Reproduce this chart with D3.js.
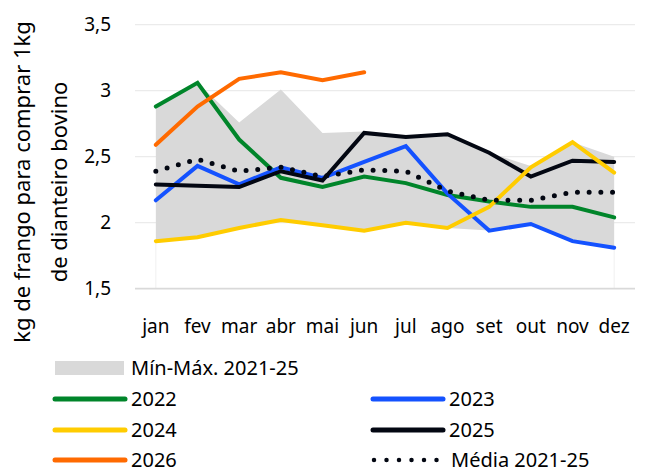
<!DOCTYPE html>
<html>
<head>
<meta charset="utf-8">
<script src="https://cdn.jsdelivr.net/npm/d3@7"></script>
<style>
  html, body { margin: 0; padding: 0; background: #ffffff; }
  svg { display: block; font-family: "Noto Sans", "Open Sans", sans-serif; }
</style>
</head>
<body>
<svg id="chart" width="649" height="473"></svg>
<script>
const months = ["jan","fev","mar","abr","mai","jun","jul","ago","set","out","nov","dez"];
const yTicks = [1.5, 2, 2.5, 3, 3.5];
const bandMin = [1.86, 1.89, 1.96, 2.02, 1.98, 1.94, 2.00, 1.96, 1.94, 1.99, 1.86, 1.81];
const bandMax = [2.88, 3.06, 2.76, 3.01, 2.68, 2.69, 2.65, 2.67, 2.53, 2.43, 2.61, 2.50];
const s2022 = [2.88, 3.06, 2.63, 2.34, 2.27, 2.35, 2.30, 2.21, 2.16, 2.12, 2.12, 2.04];
const s2023 = [2.17, 2.43, 2.29, 2.42, 2.34, 2.46, 2.58, 2.22, 1.94, 1.99, 1.86, 1.81];
const s2024 = [1.86, 1.89, 1.96, 2.02, 1.98, 1.94, 2.00, 1.96, 2.12, 2.42, 2.61, 2.38];
const s2025 = [2.29, 2.28, 2.27, 2.39, 2.32, 2.68, 2.65, 2.67, 2.53, 2.35, 2.47, 2.46];
const s2026 = [2.59, 2.88, 3.09, 3.14, 3.08, 3.14];
const media = [2.39, 2.48, 2.39, 2.42, 2.35, 2.40, 2.39, 2.24, 2.17, 2.17, 2.23, 2.23];

const svg = d3.select("#chart");
const x = d3.scaleBand().domain(months).range([135, 635]);
const cx = m => x(m) + x.bandwidth() / 2;
const y = d3.scaleLinear().domain([1.5, 3.5]).range([288.7, 24.7]);

// gridlines
svg.append("g").selectAll("line").data(yTicks.filter(t => t > 1.5)).join("line")
  .attr("x1", 135).attr("x2", 635)
  .attr("y1", d => y(d)).attr("y2", d => y(d))
  .attr("stroke", "#ebebeb").attr("stroke-width", 1.3);

// faint drop lines under band at ends
[0, 11].forEach(i => {
  svg.append("line").attr("x1", cx(months[i])).attr("x2", cx(months[i]))
    .attr("y1", y(bandMin[i])).attr("y2", y(1.5))
    .attr("stroke", "#f0f0f0").attr("stroke-width", 1);
});

// band
const area = d3.area().x((d, i) => cx(months[i])).y0((d, i) => y(bandMin[i])).y1(d => y(d));
svg.append("path").datum(bandMax).attr("d", area).attr("fill", "#d9d9d9");

// bottom axis line
svg.append("line").attr("x1", 135).attr("x2", 635).attr("y1", y(1.5)).attr("y2", y(1.5))
  .attr("stroke", "#d9d9d9").attr("stroke-width", 1.8);

// y tick labels
svg.append("g").selectAll("text").data(yTicks).join("text")
  .attr("x", 111).attr("y", d => y(d)).attr("dy", "0.35em")
  .attr("text-anchor", "end").attr("font-size", 19).attr("fill", "#000")
  .text(d => d3.format(".1f")(d).replace(".", ",").replace(",0", ""));

// x labels
svg.append("g").selectAll("text").data(months).join("text")
  .attr("x", d => cx(d)).attr("y", 333)
  .attr("text-anchor", "middle").attr("font-size", 19).attr("fill", "#000")
  .text(d => d);

// y title
const yt = svg.append("text").attr("transform", "translate(0,182) rotate(-90)")
  .attr("text-anchor", "middle").attr("font-size", 22).attr("fill", "#000");
yt.append("tspan").attr("x", 0).attr("y", 30).text("kg de frango para comprar 1kg");
yt.append("tspan").attr("x", 0).attr("y", 67).text("de dianteiro bovino");

const line = d3.line().x((d, i) => cx(months[i])).y(d => y(d));
const series = [
  { data: s2022, color: "#00852a" },
  { data: s2023, color: "#1452ff" },
  { data: s2025, color: "#030712" },
  { data: s2024, color: "#ffcc00" },
  { data: s2026, color: "#ff6a00" }
];
series.forEach(s => {
  svg.append("path").datum(s.data).attr("d", line)
    .attr("fill", "none").attr("stroke", s.color).attr("stroke-width", 4)
    .attr("stroke-linejoin", "miter").attr("stroke-linecap", "round");
});
svg.append("path").datum(media).attr("d", line)
  .attr("fill", "none").attr("stroke", "#030712").attr("stroke-width", 5)
  .attr("stroke-linecap", "round").attr("stroke-dasharray", "0 11.7");

// legend
const leg = svg.append("g").attr("font-size", 20).attr("fill", "#000");
leg.append("rect").attr("x", 55).attr("y", 361).attr("width", 69).attr("height", 14).attr("fill", "#d9d9d9");
leg.append("text").attr("x", 131).attr("y", 368).attr("dy", "0.35em").text("Mín-Máx. 2021-25");
const legItems = [
  { label: "2022", color: "#00852a", col: 0, row: 0 },
  { label: "2023", color: "#1452ff", col: 1, row: 0 },
  { label: "2024", color: "#ffcc00", col: 0, row: 1 },
  { label: "2025", color: "#030712", col: 1, row: 1 },
  { label: "2026", color: "#ff6a00", col: 0, row: 2 }
];
const rowY = [399, 430, 460];
const colX = [55, 373];
legItems.forEach(it => {
  const lx = colX[it.col], ly = rowY[it.row];
  leg.append("line").attr("x1", lx).attr("x2", lx + 70).attr("y1", ly).attr("y2", ly)
    .attr("stroke", it.color).attr("stroke-width", 5).attr("stroke-linecap", "round");
  leg.append("text").attr("x", lx + 76).attr("y", ly).attr("dy", "0.35em").text(it.label);
});
leg.append("line").attr("x1", 374).attr("x2", 437).attr("y1", rowY[2]).attr("y2", rowY[2])
  .attr("stroke", "#030712").attr("stroke-width", 4.5).attr("stroke-linecap", "round")
  .attr("stroke-dasharray", "0 12.5");
leg.append("text").attr("x", 451).attr("y", rowY[2]).attr("dy", "0.35em").text("Média 2021-25");
</script>
</body>
</html>
